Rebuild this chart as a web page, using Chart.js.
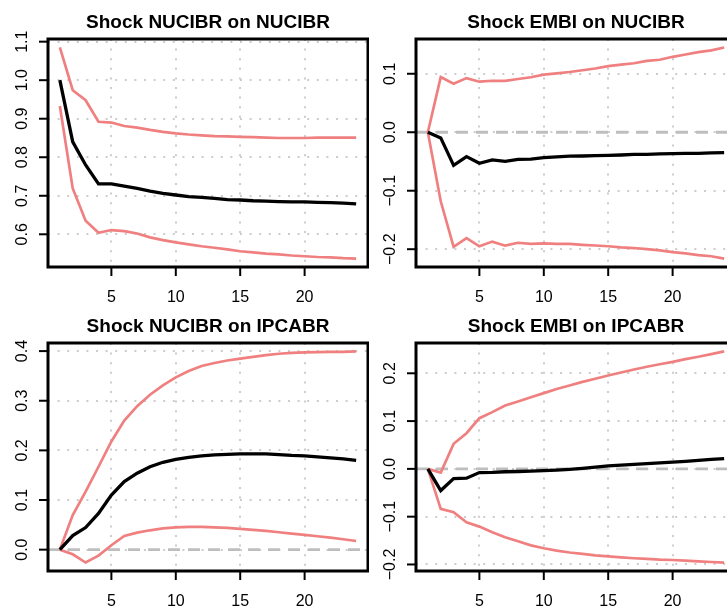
<!DOCTYPE html>
<html>
<head>
<meta charset="utf-8">
<script src="https://cdn.jsdelivr.net/npm/chart.js@4/dist/chart.umd.min.js"></script>
<style>
  html, body { margin: 0; padding: 0; background: #fff; overflow: hidden; }
  #wrap { position: relative; width: 727px; height: 607px; overflow: hidden; background: #fff; }
  canvas { position: absolute; }
</style>
</head>
<body>
<div id="wrap">
  <canvas id="c1" width="369" height="304" style="left:0;top:0"></canvas>
  <canvas id="c2" width="370" height="304" style="left:368px;top:0"></canvas>
  <canvas id="c3" width="369" height="304" style="left:0;top:304px"></canvas>
  <canvas id="c4" width="370" height="304" style="left:368px;top:304px"></canvas>
</div>
<script>
// ---- data ----
const steps = [1,2,3,4,5,6,7,8,9,10,11,12,13,14,15,16,17,18,19,20,21,22,23,24];
const xTickValues = [5, 10, 15, 20];

const titles = ["Shock NUCIBR on NUCIBR", "Shock EMBI on NUCIBR", "Shock NUCIBR on IPCABR", "Shock EMBI on IPCABR"];

// Shock NUCIBR on NUCIBR
const nucOnNuc      = [1.000,0.840,0.780,0.731,0.731,0.725,0.719,0.712,0.706,0.702,0.698,0.696,0.693,0.690,0.689,0.687,0.686,0.685,0.684,0.684,0.683,0.682,0.681,0.679];
const nucOnNucLower = [0.933,0.719,0.635,0.604,0.611,0.608,0.602,0.592,0.585,0.579,0.574,0.569,0.565,0.561,0.556,0.553,0.550,0.548,0.545,0.543,0.541,0.540,0.538,0.537];
const nucOnNucUpper = [1.085,0.974,0.948,0.892,0.890,0.881,0.877,0.871,0.866,0.862,0.859,0.857,0.855,0.854,0.853,0.852,0.851,0.850,0.850,0.850,0.851,0.851,0.851,0.851];
const nucOnNucTicks = [0.6, 0.7, 0.8, 0.9, 1.0, 1.1];

// Shock EMBI on NUCIBR
const embiOnNuc      = [0,-0.0097,-0.0566,-0.0417,-0.053,-0.0474,-0.0497,-0.0463,-0.046,-0.0434,-0.042,-0.041,-0.0406,-0.040,-0.0394,-0.0389,-0.038,-0.0377,-0.037,-0.0366,-0.036,-0.036,-0.0354,-0.0349];
const embiOnNucLower = [0,-0.118,-0.196,-0.181,-0.195,-0.187,-0.194,-0.189,-0.191,-0.190,-0.191,-0.191,-0.1925,-0.1937,-0.195,-0.197,-0.198,-0.200,-0.202,-0.205,-0.207,-0.210,-0.212,-0.216];
const embiOnNucUpper = [0,0.0943,0.083,0.0926,0.0864,0.088,0.088,0.091,0.094,0.0984,0.1006,0.103,0.106,0.109,0.113,0.1155,0.118,0.122,0.124,0.129,0.133,0.137,0.140,0.145];
const embiOnNucTicks = [-0.2, -0.1, 0.0, 0.1];

// Shock NUCIBR on IPCABR
const nucOnIpca      = [0,0.0283,0.0445,0.0729,0.110,0.137,0.154,0.167,0.176,0.182,0.186,0.189,0.191,0.192,0.193,0.193,0.193,0.1916,0.190,0.189,0.187,0.185,0.183,0.180];
const nucOnIpcaLower = [0,-0.0094,-0.026,-0.012,0.0088,0.0277,0.0344,0.039,0.043,0.045,0.0459,0.0459,0.045,0.0438,0.0418,0.040,0.0378,0.035,0.0324,0.0297,0.027,0.0243,0.021,0.0175];
const nucOnIpcaUpper = [0,0.0695,0.1167,0.167,0.218,0.260,0.289,0.312,0.331,0.347,0.360,0.370,0.376,0.381,0.385,0.3885,0.392,0.3946,0.3966,0.3973,0.398,0.3986,0.3986,0.3993];
const nucOnIpcaTicks = [0.0, 0.1, 0.2, 0.3, 0.4];

// Shock EMBI on IPCABR
const embiOnIpca      = [0,-0.0454,-0.0202,-0.0195,-0.0077,-0.0075,-0.006,-0.0055,-0.0045,-0.0035,-0.0025,-0.001,0.001,0.0035,0.0063,0.008,0.0095,0.011,0.0125,0.014,0.0159,0.0178,0.0197,0.0216];
const embiOnIpcaLower = [0,-0.0838,-0.0908,-0.1117,-0.1208,-0.1326,-0.143,-0.1515,-0.160,-0.166,-0.171,-0.175,-0.178,-0.181,-0.183,-0.185,-0.187,-0.1885,-0.190,-0.1906,-0.192,-0.1934,-0.1948,-0.196];
const embiOnIpcaUpper = [0,-0.0077,0.0524,0.0747,0.106,0.1187,0.1326,0.141,0.150,0.1585,0.167,0.1745,0.182,0.1885,0.1955,0.2017,0.208,0.2136,0.219,0.224,0.2297,0.2345,0.240,0.2457];
const embiOnIpcaTicks = [-0.2, -0.1, 0.0, 0.1, 0.2];

// ---- styles ----
const FONT = '"Liberation Sans", Arial, Helvetica, sans-serif';
const RED = '#F08080';

function fmt(v) {
  const s = v.toFixed(1);
  return s.replace('-', '\u2212');
}

const rPlot = {
  id: 'rplot',
  beforeDatasetsDraw(chart, args, o) {
    const { ctx, chartArea: a, scales: { x, y } } = chart;
    ctx.save();
    ctx.beginPath();
    ctx.rect(a.left, a.top, a.right - a.left, a.bottom - a.top);
    ctx.clip();
    // dotted grid
    ctx.strokeStyle = '#CCCCCC';
    ctx.lineWidth = 2;
    ctx.setLineDash([2, 7.6]);
    for (const v of xTickValues) {
      const px = Math.round(x.getPixelForValue(v));
      ctx.beginPath(); ctx.moveTo(px, a.top); ctx.lineTo(px, a.bottom); ctx.stroke();
    }
    for (const v of o.yTicks) {
      const py = Math.round(y.getPixelForValue(v));
      ctx.beginPath(); ctx.moveTo(a.left, py); ctx.lineTo(a.right, py); ctx.stroke();
    }
    // zero line
    if (y.min < 0 && y.max > 0) {
      const py = y.getPixelForValue(0);
      ctx.strokeStyle = '#BEBEBE';
      ctx.lineWidth = 2.8;
      ctx.setLineDash([12, 8]);
      ctx.beginPath(); ctx.moveTo(a.left, py); ctx.lineTo(a.right, py); ctx.stroke();
    }
    ctx.restore();
  },
  afterDatasetsDraw(chart, args, o) {
    const { ctx, chartArea: a, scales: { x, y } } = chart;
    ctx.save();
    ctx.setLineDash([]);
    ctx.strokeStyle = '#000';
    // box
    ctx.lineWidth = 3;
    ctx.strokeRect(a.left, a.top, a.right - a.left, a.bottom - a.top);
    // ticks
    ctx.lineWidth = 2;
    ctx.fillStyle = '#000';
    ctx.font = '16px ' + FONT;
    for (const v of xTickValues) {
      const px = x.getPixelForValue(v);
      ctx.beginPath(); ctx.moveTo(px, a.bottom); ctx.lineTo(px, a.bottom + 9); ctx.stroke();
      ctx.textAlign = 'center';
      ctx.textBaseline = 'alphabetic';
      ctx.fillText(String(v), px, a.bottom + 35);
    }
    for (const v of o.yTicks) {
      const py = y.getPixelForValue(v);
      ctx.beginPath(); ctx.moveTo(a.left, py); ctx.lineTo(a.left - 9, py); ctx.stroke();
      ctx.save();
      ctx.translate(a.left - 21, py);
      ctx.rotate(-Math.PI / 2);
      ctx.textAlign = 'center';
      ctx.textBaseline = 'alphabetic';
      ctx.fillText(fmt(v), 0, 0);
      ctx.restore();
    }
    // title
    ctx.font = 'bold 19px ' + FONT;
    ctx.textAlign = 'center';
    ctx.textBaseline = 'alphabetic';
    ctx.fillText(o.title, (a.left + a.right) / 2, 28);
    ctx.restore();
  }
};

function pts(arr) { return steps.map((s, i) => ({ x: s, y: arr[i] })); }

function rRange(lists) {
  let lo = Infinity, hi = -Infinity;
  for (const l of lists) for (const v of l) { lo = Math.min(lo, v); hi = Math.max(hi, v); }
  const pad = 0.04 * (hi - lo);
  return [lo - pad, hi + pad];
}

function makeChart(id, title, mid, lower, upper, yTicks) {
  const [ymin, ymax] = rRange([mid, lower, upper]);
  const xPad = 0.04 * (steps[steps.length - 1] - steps[0]);
  const canvas = document.getElementById(id);
  return new Chart(canvas, {
    type: 'line',
    data: {
      datasets: [
        { data: pts(mid), borderColor: '#000', borderWidth: 3.3, pointRadius: 0, tension: 0, fill: false },
        { data: pts(lower), borderColor: RED, borderWidth: 2.7, pointRadius: 0, tension: 0, fill: false },
        { data: pts(upper), borderColor: RED, borderWidth: 2.7, pointRadius: 0, tension: 0, fill: false }
      ]
    },
    options: {
      responsive: false,
      animation: false,
      devicePixelRatio: 1,
      layout: { padding: { left: 48, top: 39, right: canvas.width - 369 + 1, bottom: 37 } },
      plugins: { legend: { display: false }, tooltip: { enabled: false }, rplot: { title, yTicks } },
      scales: {
        x: { type: 'linear', min: steps[0] - xPad, max: steps[steps.length - 1] + xPad, display: false },
        y: { type: 'linear', min: ymin, max: ymax, display: false }
      }
    },
    plugins: [rPlot]
  });
}

makeChart('c1', titles[0], nucOnNuc, nucOnNucLower, nucOnNucUpper, nucOnNucTicks);
makeChart('c2', titles[1], embiOnNuc, embiOnNucLower, embiOnNucUpper, embiOnNucTicks);
makeChart('c3', titles[2], nucOnIpca, nucOnIpcaLower, nucOnIpcaUpper, nucOnIpcaTicks);
makeChart('c4', titles[3], embiOnIpca, embiOnIpcaLower, embiOnIpcaUpper, embiOnIpcaTicks);
</script>
</body>
</html>
